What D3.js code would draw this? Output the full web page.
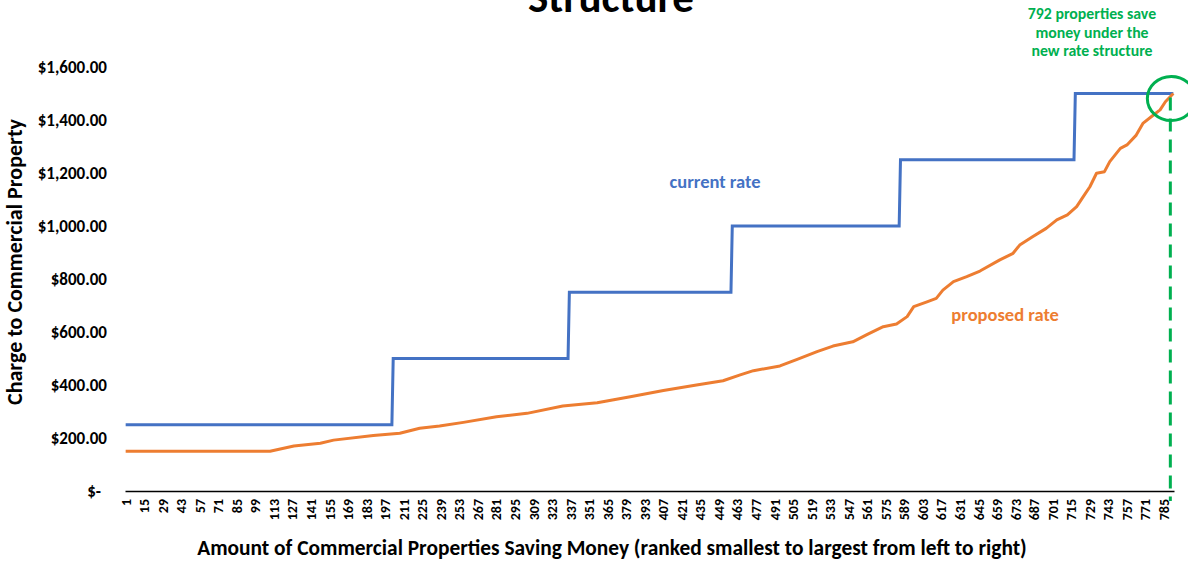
<!DOCTYPE html>
<html>
<head>
<meta charset="utf-8">
<script src="https://cdn.jsdelivr.net/npm/d3@7"></script>
<style>
  body { margin: 0; background: #fff; }
  svg text { font-family: Calibri, Carlito, Lato, sans-serif; font-weight: bold; }
</style>
</head>
<body>
<div id="chart-area"></div>
<script>
// current rate: flat tiers, listed at the rank where each tier starts / ends
var currentRank = [1, 202, 203, 335, 336, 458, 459, 585, 586, 717, 718, 792];
var currentRate = [250, 250, 500, 500, 750, 750, 1000, 1000, 1250, 1250, 1500, 1500];

// proposed rate at these ranks
var proposedRank = [1, 110, 128, 148, 158, 188, 208, 223, 238, 256, 281, 304, 331, 357, 382, 407, 432, 452,
  465, 475, 495, 508, 523, 535, 550, 561, 573, 583, 591, 596, 606, 613, 618, 626, 636, 646, 661, 671, 676,
  686, 696, 704, 712, 719, 724, 729, 734, 740, 744, 752, 757, 764, 769, 777, 782, 786, 792];
var proposedRate = [150, 150, 170, 180, 192, 209, 218, 237, 245, 259, 280, 293, 321, 333, 356, 379, 400, 416,
  438, 454, 472, 497, 526, 547, 563, 591, 620, 630, 658, 696, 714, 727, 758, 790, 809, 830, 872, 897, 928,
  960, 991, 1023, 1042, 1073, 1111, 1148, 1199, 1205, 1243, 1293, 1306, 1343, 1387, 1419, 1438, 1469, 1500];

var propertyCount = 792;
var xTickLabels = d3.range(1, propertyCount + 1, 14);   // 1, 15, 29 ... 785
var yTickValues = [0, 200, 400, 600, 800, 1000, 1200, 1400, 1600];

var W = 1188, H = 562;
var margin = {top: 67, right: 14, bottom: 71, left: 125},
    width = W - margin.left - margin.right,
    height = H - margin.top - margin.bottom;

var svg = d3.select("#chart-area")
  .append("svg")
    .attr("width", W)
    .attr("height", H);

var g = svg.append("g")
    .attr("transform", "translate(" + margin.left + "," + margin.top + ")");

// category axis like Excel: each property gets a slot
var x = d3.scaleBand()
    .domain(d3.range(1, propertyCount + 1))
    .range([0, width]);
var cx = function(i) { return x(i) + x.bandwidth() / 2; };

var y = d3.scaleLinear()
    .domain([0, 1600])
    .range([height, 0]);

// Y axis (labels only)
var yAxis = g.append("g")
    .call(d3.axisLeft(y)
      .tickValues(yTickValues)
      .tickSize(0)
      .tickPadding(18)
      .tickFormat(function(d) { return d === 0 ? "$-" : d3.format("$,.2f")(d); }));
yAxis.select(".domain").remove();
yAxis.selectAll("text")
    .style("font-size", "17px")
    .attr("fill", "#000")
    .attr("dx", function(d) { return d === 0 ? -6 : 0; });

// X axis
var xAxis = g.append("g")
    .attr("transform", "translate(0," + height + ")")
    .call(d3.axisBottom(x).tickValues(xTickLabels).tickSize(0).tickPadding(0));
xAxis.select(".domain")
    .attr("stroke", "#000")
    .attr("stroke-width", 1.3);
xAxis.selectAll("text")
    .style("font-size", "14px")
    .attr("fill", "#000")
    .attr("text-anchor", "end")
    .attr("transform", "rotate(-90)")
    .attr("x", -8)
    .attr("y", 0)
    .attr("dy", "0.35em");

// lines
var line = d3.line()
    .x(function(d) { return cx(d[0]); })
    .y(function(d) { return y(d[1]); });

g.append("path")
    .datum(d3.zip(currentRank, currentRate))
    .attr("fill", "none")
    .attr("stroke", "#4472C4")
    .attr("stroke-width", 3)
    .attr("d", line);

g.append("path")
    .datum(d3.zip(proposedRank, proposedRate))
    .attr("fill", "none")
    .attr("stroke", "#ED7D31")
    .attr("stroke-width", 3)
    .attr("stroke-linejoin", "round")
    .attr("d", line);

// series labels
g.append("text")
    .attr("x", cx(446))
    .attr("y", y(1145))
    .attr("text-anchor", "middle")
    .style("font-size", "18.5px")
    .attr("fill", "#4472C4")
    .text("current rate");

g.append("text")
    .attr("x", cx(665))
    .attr("y", y(642))
    .attr("text-anchor", "middle")
    .style("font-size", "18.5px")
    .attr("fill", "#ED7D31")
    .text("proposed rate");

// highlight of the last property
var green = "#00B050";
g.append("line")
    .attr("x1", cx(propertyCount) - 3)
    .attr("x2", cx(propertyCount) - 3)
    .attr("y1", y(1500) + 4)
    .attr("y2", height + 10)
    .attr("stroke", green)
    .attr("stroke-width", 3)
    .attr("stroke-dasharray", "13,8");

g.append("ellipse")
    .attr("cx", cx(propertyCount) - 2)
    .attr("cy", y(1500) + 5)
    .attr("rx", 24)
    .attr("ry", 22)
    .attr("fill", "none")
    .attr("stroke", green)
    .attr("stroke-width", 3);

var note = svg.append("text")
    .attr("x", 1092)
    .attr("y", 19)
    .attr("text-anchor", "middle")
    .style("font-size", "15.8px")
    .attr("fill", green);
["792 properties save", "money under the", "new rate structure"].forEach(function(t, i) {
  note.append("tspan").attr("x", 1092).attr("dy", i === 0 ? 0 : 18.5).text(t);
});

// titles (first title line sits above the visible area)
svg.append("text")
    .attr("x", 611)
    .attr("y", 12)
    .attr("text-anchor", "middle")
    .style("font-size", "43px")
    .attr("fill", "#000")
    .text("Structure");

svg.append("text")
    .attr("x", 612)
    .attr("y", 555)
    .attr("text-anchor", "middle")
    .style("font-size", "21.4px")
    .attr("fill", "#000")
    .text("Amount of Commercial Properties Saving Money (ranked smallest to largest from left to right)");

svg.append("text")
    .attr("transform", "translate(22,262) rotate(-90)")
    .attr("text-anchor", "middle")
    .style("font-size", "22px")
    .attr("fill", "#000")
    .text("Charge to Commercial Property");
</script>
</body>
</html>
